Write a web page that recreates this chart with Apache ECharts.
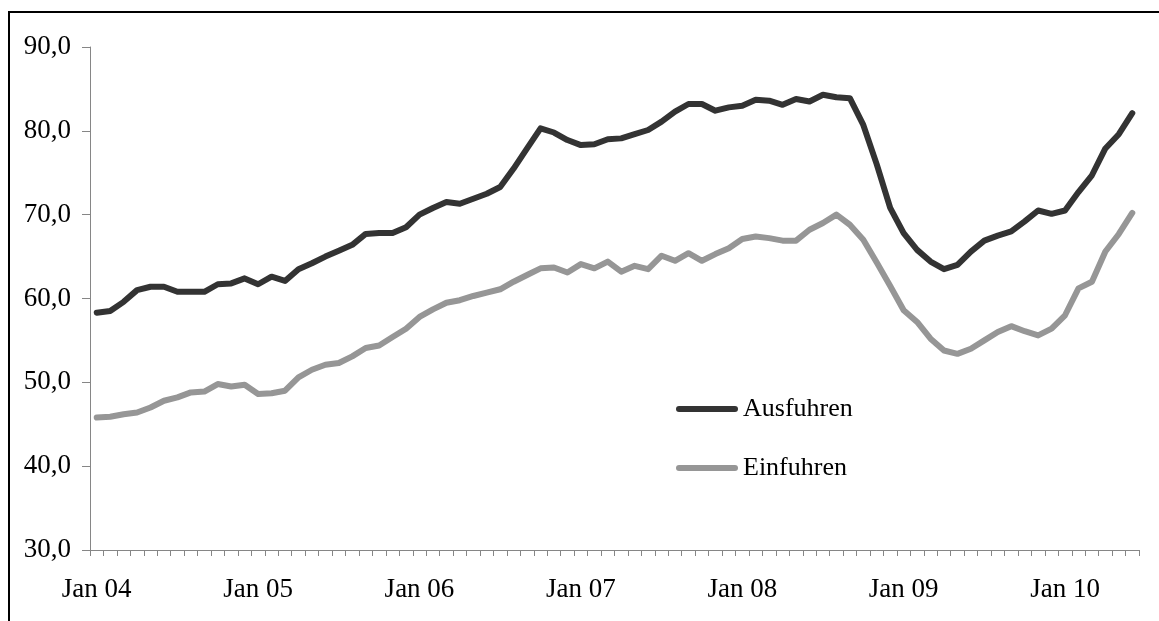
<!DOCTYPE html>
<html>
<head>
<meta charset="utf-8">
<title>Ausfuhren / Einfuhren</title>
<script src="https://cdn.jsdelivr.net/npm/echarts@6.0.0/dist/echarts.min.js"></script>
<style>
  html, body { margin: 0; padding: 0; background: #fff; overflow: hidden; }
  .frame {
    position: absolute; left: 8px; top: 11px;
    width: 1200px; height: 700px;
    border: 2px solid #000;
  }
  #chartLine { position: absolute; left: 0; top: 0; width: 1159px; height: 621px; }
</style>
</head>
<body>
<div class="frame"></div>
<div id="chartLine"></div>
<script>
// monthly, Jan 04 .. Jun 10
var categories = [
  'Jan 04','Feb 04','Mrz 04','Apr 04','Mai 04','Jun 04','Jul 04','Aug 04','Sep 04','Okt 04','Nov 04','Dez 04',
  'Jan 05','Feb 05','Mrz 05','Apr 05','Mai 05','Jun 05','Jul 05','Aug 05','Sep 05','Okt 05','Nov 05','Dez 05',
  'Jan 06','Feb 06','Mrz 06','Apr 06','Mai 06','Jun 06','Jul 06','Aug 06','Sep 06','Okt 06','Nov 06','Dez 06',
  'Jan 07','Feb 07','Mrz 07','Apr 07','Mai 07','Jun 07','Jul 07','Aug 07','Sep 07','Okt 07','Nov 07','Dez 07',
  'Jan 08','Feb 08','Mrz 08','Apr 08','Mai 08','Jun 08','Jul 08','Aug 08','Sep 08','Okt 08','Nov 08','Dez 08',
  'Jan 09','Feb 09','Mrz 09','Apr 09','Mai 09','Jun 09','Jul 09','Aug 09','Sep 09','Okt 09','Nov 09','Dez 09',
  'Jan 10','Feb 10','Mrz 10','Apr 10','Mai 10','Jun 10'
];

var ausfuhren = [
  58.3, 58.5, 59.6, 61.0, 61.4, 61.4, 60.8, 60.8, 60.8, 61.7, 61.8, 62.4,
  61.7, 62.6, 62.1, 63.5, 64.2, 65.0, 65.7, 66.4, 67.7, 67.8, 67.8, 68.5,
  70.0, 70.8, 71.5, 71.3, 71.9, 72.5, 73.3, 75.5, 77.9, 80.3, 79.8, 78.9,
  78.3, 78.4, 79.0, 79.1, 79.6, 80.1, 81.1, 82.3, 83.2, 83.2, 82.4, 82.8,
  83.0, 83.7, 83.6, 83.1, 83.8, 83.5, 84.3, 84.0, 83.9, 80.7, 76.0, 70.8,
  67.8, 65.8, 64.4, 63.5, 64.0, 65.6, 66.9, 67.5, 68.0, 69.2, 70.5, 70.1,
  70.5, 72.7, 74.7, 77.9, 79.6, 82.1
];

var einfuhren = [
  45.8, 45.9, 46.2, 46.4, 47.0, 47.8, 48.2, 48.8, 48.9, 49.8, 49.5, 49.7,
  48.6, 48.7, 49.0, 50.6, 51.5, 52.1, 52.3, 53.1, 54.1, 54.4, 55.4, 56.4,
  57.8, 58.7, 59.5, 59.8, 60.3, 60.7, 61.1, 62.0, 62.8, 63.6, 63.7, 63.1,
  64.1, 63.6, 64.4, 63.2, 63.9, 63.5, 65.1, 64.5, 65.4, 64.5, 65.3, 66.0,
  67.1, 67.4, 67.2, 66.9, 66.9, 68.2, 69.0, 70.0, 68.8, 67.0, 64.3, 61.5,
  58.6, 57.2, 55.2, 53.8, 53.4, 54.0, 55.0, 56.0, 56.7, 56.1, 55.6, 56.4,
  58.0, 61.2, 62.0, 65.6, 67.7, 70.2
];

var fontFam = "'Liberation Serif', 'Times New Roman', serif";
var axisGrey = '#868686';

var chartLine = echarts.init(document.getElementById('chartLine'));
chartLine.setOption({
  animation: false,
  textStyle: { fontFamily: fontFam },
  grid: { left: 90, right: 20, top: 47, bottom: 71 },
  legend: {
    orient: 'vertical',
    left: 676,
    top: 394,
    padding: 0,
    itemWidth: 62,
    itemHeight: 7,
    itemGap: 29,
    icon: 'path://M3,0 L59,0 A3,3 0 0 1 59,6 L3,6 A3,3 0 0 1 3,0 Z',
    textStyle: { fontFamily: fontFam, fontSize: 26, color: '#000', lineHeight: 30 },
    data: ['Ausfuhren', 'Einfuhren']
  },
  xAxis: {
    type: 'category',
    boundaryGap: true,
    data: categories,
    axisLine: { show: true, lineStyle: { color: axisGrey, width: 1 } },
    axisTick: { show: true, interval: 0, length: 6, lineStyle: { color: axisGrey } },
    axisLabel: {
      interval: 11,
      margin: 26,
      color: '#000',
      fontFamily: fontFam,
      fontSize: 27
    },
    splitLine: { show: false }
  },
  yAxis: {
    type: 'value',
    min: 30,
    max: 90,
    interval: 10,
    axisLine: { show: true, lineStyle: { color: axisGrey, width: 1 } },
    axisTick: { show: true, length: 8, lineStyle: { color: axisGrey } },
    axisLabel: {
      margin: 19,
      color: '#000',
      fontFamily: fontFam,
      fontSize: 27,
      formatter: function (v) { return v.toFixed(1).replace('.', ','); }
    },
    splitLine: { show: false }
  },
  series: [
    {
      name: 'Ausfuhren',
      type: 'line',
      data: ausfuhren,
      symbol: 'none',
      lineStyle: { width: 6, color: '#333333', cap: 'round', join: 'round' },
      itemStyle: { color: '#333333' }
    },
    {
      name: 'Einfuhren',
      type: 'line',
      data: einfuhren,
      symbol: 'none',
      lineStyle: { width: 6, color: '#969696', cap: 'round', join: 'round' },
      itemStyle: { color: '#969696' }
    }
  ]
});
</script>
</body>
</html>
